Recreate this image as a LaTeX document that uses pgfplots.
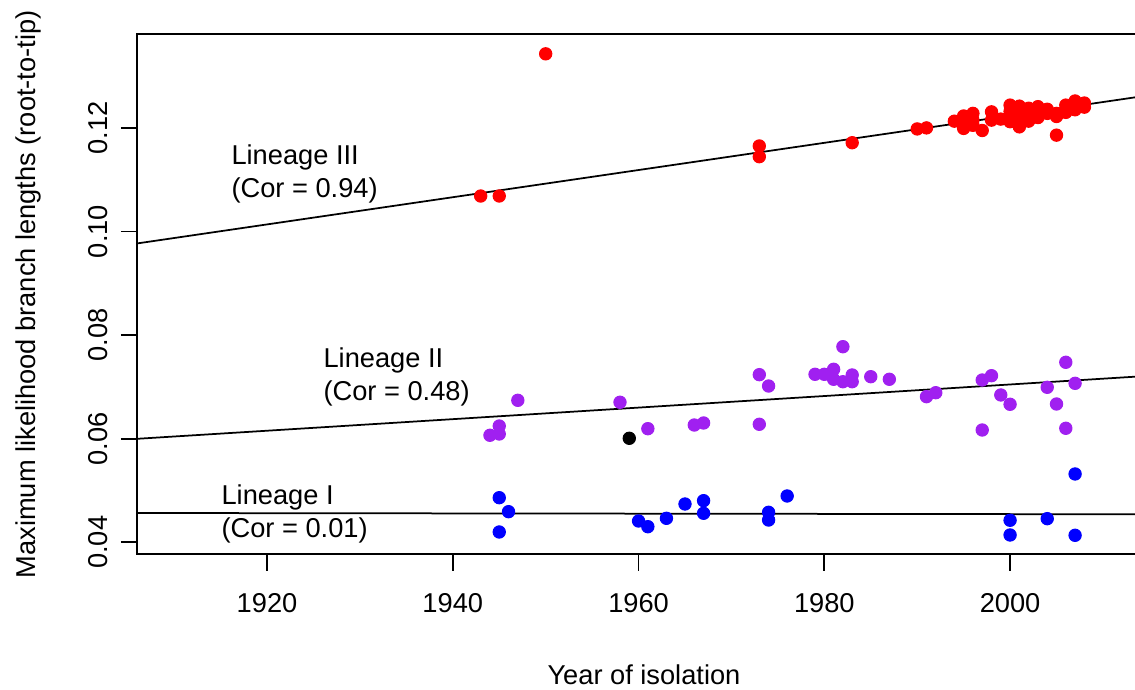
\documentclass[border=0pt]{standalone}
\usepackage{pgfplots}
\pgfplotsset{compat=1.18}
\usepackage{fontspec}
\setmainfont{Liberation Sans}
\definecolor{rpurple}{HTML}{A020F0}
\newcommand{\ff}{\fontsize{10.9}{13.2}\selectfont}
\begin{document}
\begin{tikzpicture}[font=\ff]
\begin{axis}[
  scale only axis,
  width=401.08pt, height=208pt,
  xmin=1906.03, xmax=2013.99,
  ymin=0.03768, ymax=0.13807,
  axis line style={black, line width=0.7pt},
  tick style={black, line width=0.7pt},
  major tick length=6.6pt,
  tick align=outside,
  tick pos=left,
  xtick={1920,1940,1960,1980,2000},
  xticklabels={1920,1940,1960,1980,2000},
  ytick={0.04,0.06,0.08,0.10,0.12},
  yticklabels={0.04,0.06,0.08,0.10,0.12},
  tick label style={font=\ff},
  xticklabel style={anchor=north, inner sep=0pt},
  xticklabel shift=9pt,
  yticklabel style={rotate=90, anchor=south, inner sep=0pt},
  yticklabel shift=5.1pt,
  xlabel={Year of isolation},
  ylabel={Maximum likelihood branch lengths (root-to-tip)},
  label style={font=\ff},
  xlabel style={at={(axis description cs:0.5053,-0.2321)}, anchor=center, inner sep=0pt},
  ylabel style={at={(axis description cs:-0.109,0.5)}, anchor=center, inner sep=0pt},
  clip=false,
]
% regression lines
\addplot[black, line width=0.7pt] coordinates {(1906.03,0.0977) (2013.99,0.12604)};
\addplot[black, line width=0.7pt] coordinates {(1906.03,0.05998) (2013.99,0.07203)};
\addplot[black, line width=0.7pt] coordinates {(1906.03,0.045656) (2013.99,0.045405)};
% Lineage III (red)
\addplot[only marks, mark=*, mark size=2.47pt, color=red] coordinates {
(1943,0.10685) (1945,0.10685) (1950,0.1343)
(1973,0.11651) (1973,0.11444) (1983,0.11714)
(1990,0.1198) (1991,0.1200)
(1994,0.1213)
(1995,0.1223) (1995,0.1210) (1995,0.1199) (1995,0.1218)
(1996,0.1228) (1996,0.1215) (1996,0.1205)
(1997,0.1195)
(1998,0.1231) (1998,0.1215)
(1999,0.1217)
(2000,0.1244) (2000,0.1232) (2000,0.1222) (2000,0.1212)
(2001,0.1242) (2001,0.1228) (2001,0.1215) (2001,0.1202)
(2002,0.1238) (2002,0.1225) (2002,0.1213)
(2003,0.1241) (2003,0.1230) (2003,0.1220)
(2004,0.1236) (2004,0.1228)
(2005,0.1228) (2005,0.1222) (2005,0.1186)
(2006,0.1244) (2006,0.1236) (2006,0.1230)
(2007,0.1252) (2007,0.1243) (2007,0.1235)
(2008,0.1248) (2008,0.1240)
};
% Lineage II (purple)
\addplot[only marks, mark=*, mark size=2.47pt, color=rpurple] coordinates {
(1944,0.06066) (1945,0.06245) (1945,0.06091) (1947,0.06741)
(1958,0.06703) (1961,0.06193) (1966,0.06264) (1967,0.06303)
(1973,0.07236) (1973,0.06278) (1974,0.07017)
(1979,0.07243) (1980,0.07243) (1981,0.07340) (1981,0.07147)
(1982,0.07776) (1982,0.07100) (1983,0.07230) (1983,0.07100)
(1985,0.07197) (1987,0.07147)
(1991,0.06811) (1992,0.06888)
(1997,0.07133) (1997,0.06168) (1998,0.07216) (1999,0.06844) (2000,0.06664)
(2004,0.06992) (2005,0.06670) (2006,0.07475) (2006,0.06201) (2007,0.07069)
};
% black point
\addplot[only marks, mark=*, mark size=2.47pt, color=black] coordinates {(1959,0.06008)};
% Lineage I (blue)
\addplot[only marks, mark=*, mark size=2.47pt, color=blue] coordinates {
(1945,0.04861) (1946,0.04591) (1945,0.04199)
(1960,0.04411) (1961,0.04301) (1963,0.04463) (1965,0.04739)
(1967,0.04803) (1967,0.04560) (1974,0.04579) (1974,0.04430) (1976,0.04894)
(2000,0.04425) (2000,0.04141) (2004,0.04456) (2007,0.05319) (2007,0.04135)
};
\node[anchor=west, align=left, inner sep=0pt] at (axis cs:1916.12,0.1111) {Lineage III\\(Cor = 0.94)};
\node[anchor=west, align=left, inner sep=0pt] at (axis cs:1926.03,0.07191) {Lineage II\\(Cor = 0.48)};
\node[anchor=west, align=left, inner sep=0pt] at (axis cs:1915.05,0.04556) {Lineage I\\(Cor = 0.01)};
\end{axis}
\pgfresetboundingbox
\useasboundingbox (-54.92pt,-53.88pt) rectangle (399.08pt,221.72pt);
\end{tikzpicture}
\end{document}
